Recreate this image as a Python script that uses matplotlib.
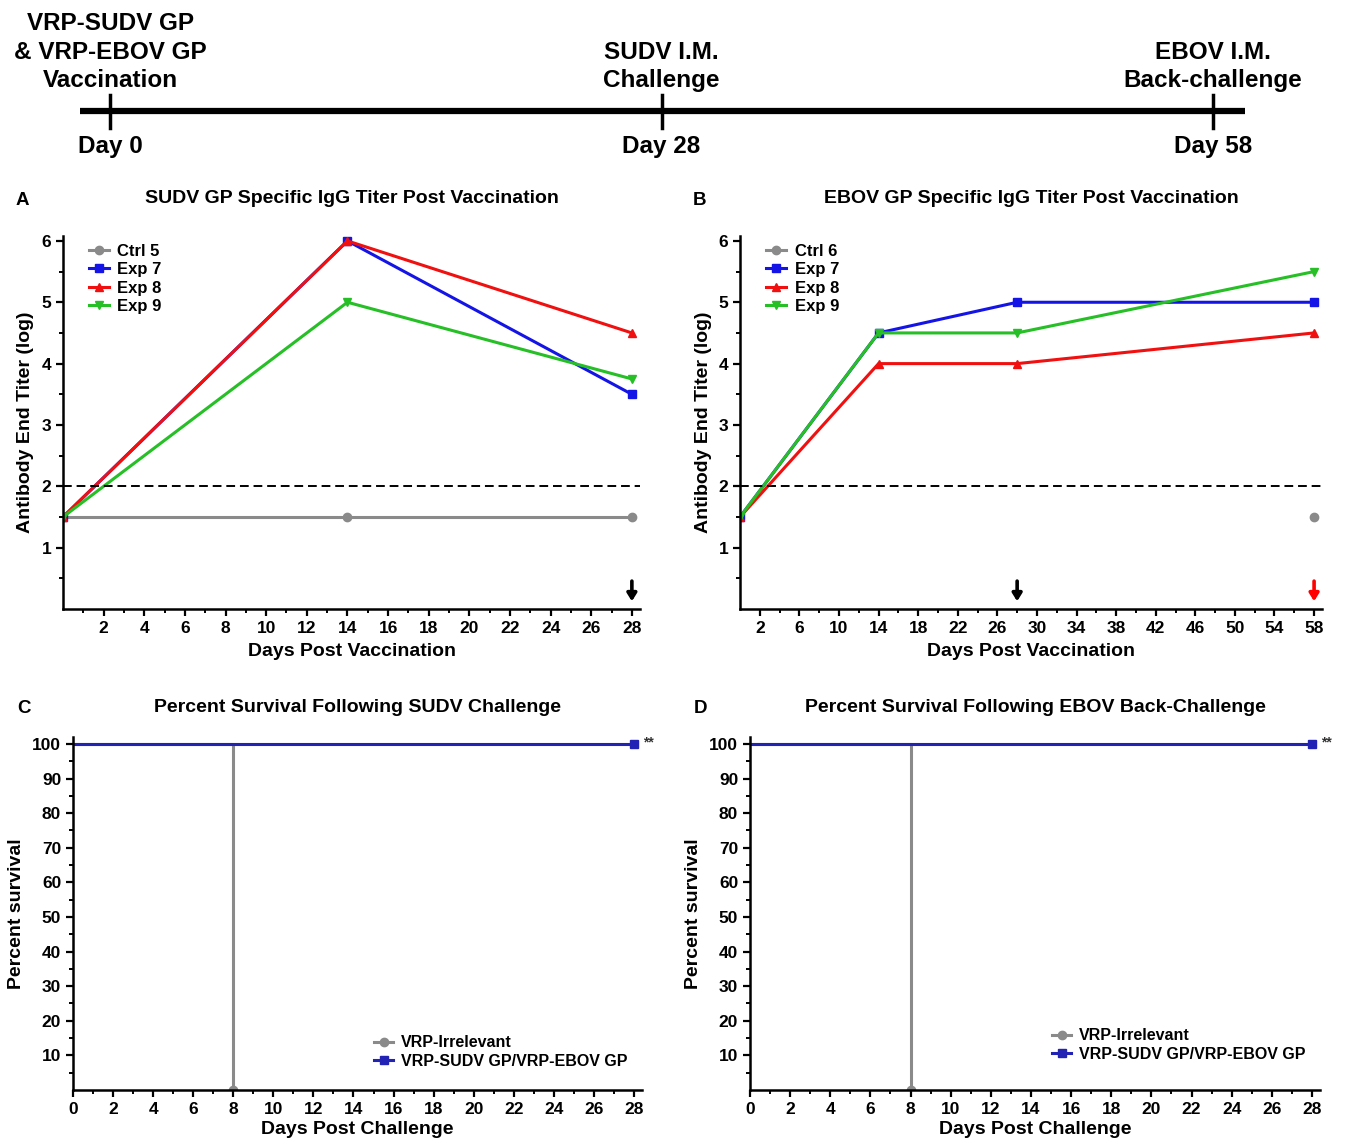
import matplotlib
matplotlib.use('Agg')
import matplotlib.pyplot as plt
import numpy as np

plt.rcParams['font.family'] = ['Liberation Sans', 'DejaVu Sans']
plt.rcParams['font.weight'] = 'bold'

# timeline
timeline_events = ['VRP-SUDV GP\n& VRP-EBOV GP\nVaccination', 'SUDV I.M.\nChallenge', 'EBOV I.M.\nBack-challenge']
timeline_days = ['Day 0', 'Day 28', 'Day 58']

# panel A: SUDV GP IgG
days_a = [0, 14, 28]
ctrl5_a = [1.5, 1.5, 1.5]
exp7_a = [1.5, 6.0, 3.5]
exp8_a = [1.5, 6.0, 4.5]
exp9_a = [1.5, 5.0, 3.75]
arrows_a = [28]

# panel B: EBOV GP IgG
days_b = [0, 14, 28, 58]
ctrl6_day_b = [58]
ctrl6_b = [1.5]
exp7_b = [1.5, 4.5, 5.0, 5.0]
exp8_b = [1.5, 4.0, 4.0, 4.5]
exp9_b = [1.5, 4.5, 4.5, 5.5]
arrows_b = [28, 58]
arrow_colors_b = ['black', 'red']

# panels C and D: survival
irr_days = [0, 8]
irr_surv = [100, 0]
vac_days = [0, 28]
vac_surv = [100, 100]

GRAY = '#8a8a8a'
BLUE = '#1414e6'
RED = '#f01010'
GREEN = '#26bf26'
DKBLUE = '#2222b4'

fig = plt.figure(figsize=(13.46, 11.44), dpi=100)

# ---- timeline ----
W, H = 1346, 1144
axt = fig.add_axes([0, 1 - 170 / H, 1, 170 / H])
step = 551.5
axt.set_xlim(-110 / step, (W - 110) / step)
axt.set_ylim(170, 0)
axt.axis('off')
pos = np.arange(len(timeline_events))
axt.plot([pos[0] - 30 / step, pos[-1] + 32 / step], [111, 111], color='black', lw=4.5, solid_capstyle='butt')
for p, ev, d in zip(pos, timeline_events, timeline_days):
    axt.plot([p, p], [95, 128], color='black', lw=2.5)
    axt.text(p, 92, ev, ha='center', va='bottom', fontsize=17.5, fontweight='bold', linespacing=1.3)
    axt.text(p, 147, d, ha='center', va='center', fontsize=17.5, fontweight='bold')


def style_axes(ax):
    for s in ['top', 'right']:
        ax.spines[s].set_visible(False)
    for s in ['left', 'bottom']:
        ax.spines[s].set_linewidth(1.8)
    ax.tick_params(which='major', direction='out', length=5, width=1.6, labelsize=12.5)
    ax.tick_params(which='minor', direction='out', length=3, width=1.4)
    for lab in ax.get_xticklabels() + ax.get_yticklabels():
        lab.set_fontweight('bold')


def titer_panel(ax, letter, title, days, ctrl, ctrl_days, ctrl_label, e7, e8, e9, xmax, ticks, minor, arrows, arrow_cols):
    ax.plot(ctrl_days, ctrl, color=GRAY, lw=2.2, marker='o', ms=6, label=ctrl_label)
    ax.plot(days, e7, color=BLUE, lw=2.2, marker='s', ms=6, label='Exp 7')
    ax.plot(days, e8, color=RED, lw=2.2, marker='^', ms=6, label='Exp 8')
    ax.plot(days, e9, color=GREEN, lw=2.2, marker='v', ms=6, label='Exp 9')
    ax.axhline(2, color='black', ls='--', lw=1.4, dashes=(4.5, 2.5))
    for a, c in zip(arrows, arrow_cols):
        ax.annotate('', xy=(a, 0.08), xytext=(a, 0.5),
                    arrowprops=dict(arrowstyle='-|>,head_width=0.28,head_length=0.45', color=c, lw=2.6))
    ax.set_xlim(0, xmax)
    ax.set_ylim(0, 6.08)
    ax.set_xticks(ticks)
    ax.set_xticks(minor, minor=True)
    ax.set_yticks([1, 2, 3, 4, 5, 6])
    ax.set_yticks(np.arange(0.5, 6, 1.0), minor=True)
    style_axes(ax)
    ax.set_xlabel('Days Post Vaccination', fontsize=14, fontweight='bold', labelpad=5)
    ax.set_ylabel('Antibody End Titer (log)', fontsize=14, fontweight='bold', labelpad=5)
    ax.set_title(title, fontsize=14, fontweight='bold', pad=24)
    ax.text(-0.082, 1.094, letter, transform=ax.transAxes, fontsize=13.5, fontweight='bold', va='center')
    ax.legend(loc='upper left', bbox_to_anchor=(0.025, 1.01), frameon=False,
              handlelength=1.2, handletextpad=0.5, labelspacing=0.2, borderpad=0.2,
              prop={'weight': 'bold', 'size': 12})


def survival_panel(ax, letter, title, leg_y):
    ax.plot(irr_days, irr_surv, color=GRAY, lw=2.2, drawstyle='steps-post', marker='o', ms=6,
            markevery=[1], label='VRP-Irrelevant')
    ax.plot(vac_days, vac_surv, color=DKBLUE, lw=2.2, marker='s', ms=6, markevery=[1],
            label='VRP-SUDV GP/VRP-EBOV GP')
    ax.text(vac_days[-1] + 0.45, vac_surv[-1] + 0.5, '**', fontsize=10, color='#333333', va='center')
    ax.set_xlim(0, 28.4)
    ax.set_ylim(0, 102)
    ax.set_xticks(np.arange(0, 29, 2))
    ax.set_xticks(np.arange(1, 28, 2), minor=True)
    ax.set_yticks(np.arange(10, 101, 10))
    ax.set_yticks(np.arange(5, 100, 10), minor=True)
    style_axes(ax)
    ax.set_xlabel('Days Post Challenge', fontsize=14, fontweight='bold', labelpad=3)
    ax.set_ylabel('Percent survival', fontsize=14, fontweight='bold', labelpad=5)
    ax.set_title(title, fontsize=14, fontweight='bold', pad=18)
    ax.text(-0.098, 1.08, letter, transform=ax.transAxes, fontsize=13.5, fontweight='bold', va='center')
    ax.legend(loc='lower right', bbox_to_anchor=(1.0, leg_y), frameon=False,
              handlelength=1.2, handletextpad=0.5, labelspacing=0.2,
              prop={'weight': 'bold', 'size': 11.5})


axA = fig.add_axes([63 / W, 1 - 609 / H, 577 / W, 373 / H])
titer_panel(axA, 'A', 'SUDV GP Specific IgG Titer Post Vaccination', days_a, ctrl5_a, days_a, 'Ctrl 5',
            exp7_a, exp8_a, exp9_a, 28.4, np.arange(2, 29, 2), np.arange(1, 28, 2), arrows_a, ['black'])

axB = fig.add_axes([740 / W, 1 - 609 / H, 582 / W, 373 / H])
titer_panel(axB, 'B', 'EBOV GP Specific IgG Titer Post Vaccination', days_b, ctrl6_b, ctrl6_day_b, 'Ctrl 6',
            exp7_b, exp8_b, exp9_b, 58.8, np.arange(2, 59, 4), np.arange(4, 58, 4), arrows_b, arrow_colors_b)

axC = fig.add_axes([73 / W, 1 - 1090 / H, 569 / W, 353 / H])
survival_panel(axC, 'C', 'Percent Survival Following SUDV Challenge', 0.02)

axD = fig.add_axes([750 / W, 1 - 1090 / H, 570 / W, 353 / H])
survival_panel(axD, 'D', 'Percent Survival Following EBOV Back-Challenge', 0.04)

plt.savefig('out.png', dpi=100)
